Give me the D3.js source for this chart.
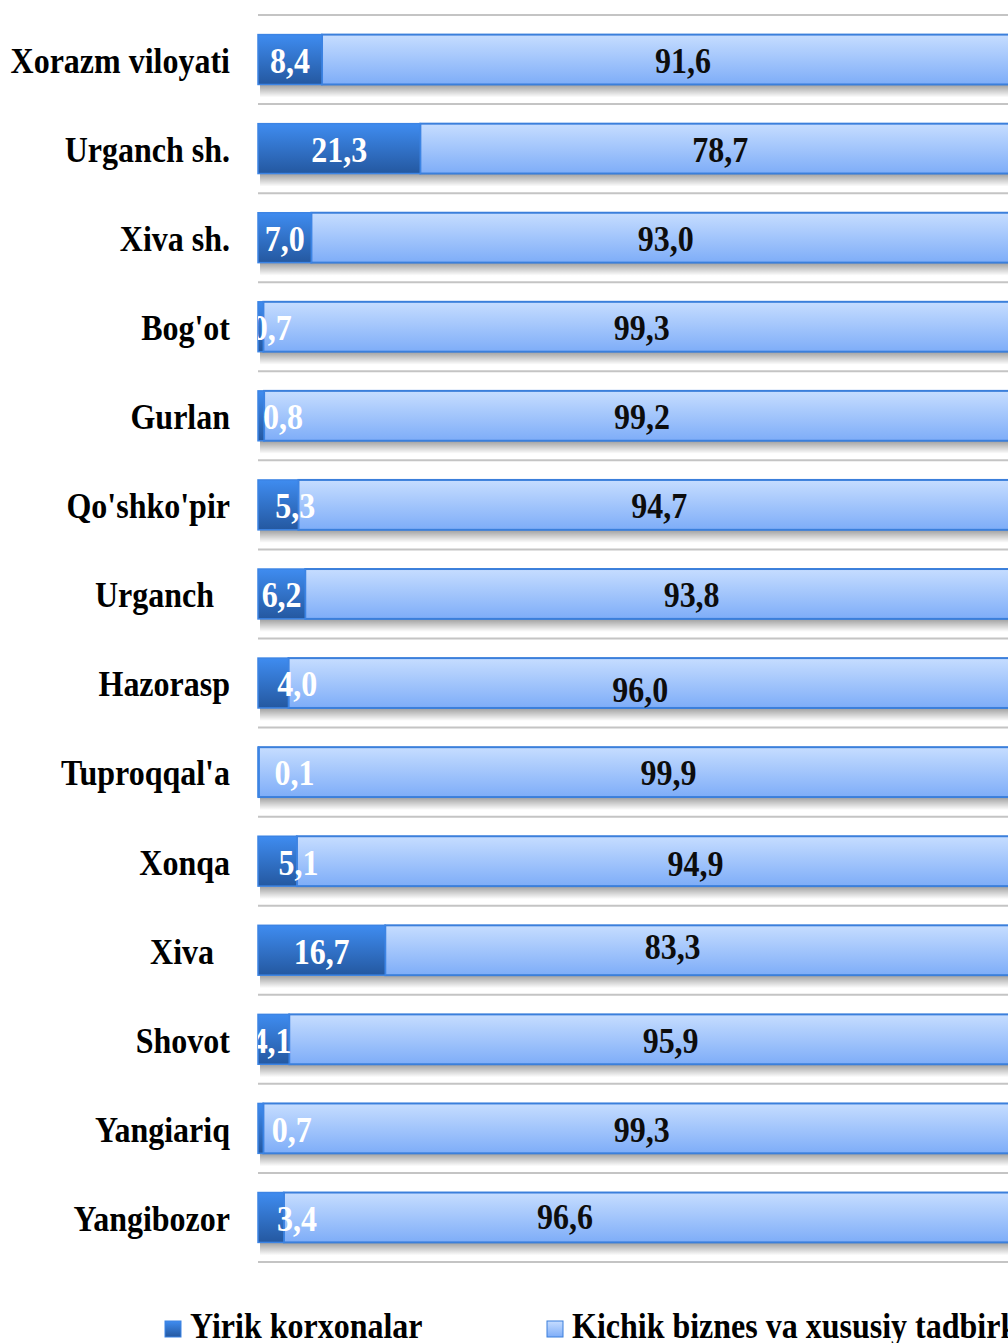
<!DOCTYPE html>
<html>
<head>
<meta charset="utf-8">
<script src="https://cdnjs.cloudflare.com/ajax/libs/d3/7.8.5/d3.min.js"></script>
<style>
    html, body { margin: 0; padding: 0; background: #fff; overflow: hidden; }
    svg text { font-family: 'Liberation Serif', 'Times New Roman', serif; font-weight: bold; }
    .cat-name { white-space: pre; }
</style>
</head>
<body>
<svg id="mainCanvas" width="1008" height="1343"></svg>
<script>
var width = 1008;
var height = 1343;

// data
var categories = ['Xorazm viloyati', 'Urganch sh.', 'Xiva sh.', "Bog'ot", 'Gurlan', "Qo'shko'pir",
    'Urganch  ', 'Hazorasp', "Tuproqqal'a", 'Xonqa', 'Xiva  ', 'Shovot', 'Yangiariq', 'Yangibozor'];
var yirik = [8.4, 21.3, 7.0, 0.7, 0.8, 5.3, 6.2, 4.0, 0.1, 5.1, 16.7, 4.1, 0.7, 3.4];
var kichik = [91.6, 78.7, 93.0, 99.3, 99.2, 94.7, 93.8, 96.0, 99.9, 94.9, 83.3, 95.9, 99.3, 96.6];
var seriesNames = ['Yirik korxonalar', 'Kichik biznes va xususiy tadbirkorlik'];

// hand-moved data labels in the original (px offsets from the segment centre)
var yirikLabelDx = [0, 0, 0, 11, 22, 17, 0, 24, 36, 21, 0, -2, 31, 26];
var kichikLabelDx = [12, 0, 0, 0, 0, 0, 29, -14, 29, 37, -30, 16, 0, -87];
var kichikLabelDy = [0, 0, 0, 0, 0, 0, 0, 6, 0, 1, -5, 0, 0, -2];

var rows = categories.map(function(c, i) {
    return { name: c, a: yirik[i], b: kichik[i], i: i };
});

var plotLeft = 258, plotRight = 1020, plotTop = 15, plotBottom = 1262;
var fontSize = 32;
var stretch = 'scale(1 1.1)';   // the source picture is a little taller than wide

var x = d3.scaleLinear().domain([0, 100]).range([plotLeft, plotRight]);
var y = d3.scaleBand().domain(categories).range([plotTop, plotBottom])
    .paddingInner(0.44).paddingOuter(0.22);
var step = y.step();

var fmt = function(v) { return d3.format('.1f')(v).replace('.', ','); };
var at = function(px, py) { return 'translate(' + px + ' ' + py + ') ' + stretch; };

var svg = d3.select('#mainCanvas');
var defs = svg.append('defs');

var gradA = defs.append('linearGradient').attr('id', 'gradYirik')
    .attr('x1', 0).attr('y1', 0).attr('x2', 0).attr('y2', 1);
gradA.append('stop').attr('offset', '0%').attr('stop-color', '#3f8cf0');
gradA.append('stop').attr('offset', '100%').attr('stop-color', '#2458a0');

var gradB = defs.append('linearGradient').attr('id', 'gradKichik')
    .attr('x1', 0).attr('y1', 0).attr('x2', 0).attr('y2', 1);
gradB.append('stop').attr('offset', '0%').attr('stop-color', '#c6ddff');
gradB.append('stop').attr('offset', '100%').attr('stop-color', '#7eadf8');

var gradS = defs.append('linearGradient').attr('id', 'gradShadow')
    .attr('x1', 0).attr('y1', 0).attr('x2', 0).attr('y2', 1);
gradS.append('stop').attr('offset', '0%').attr('stop-color', '#000').attr('stop-opacity', 0.38);
gradS.append('stop').attr('offset', '100%').attr('stop-color', '#000').attr('stop-opacity', 0);

defs.append('clipPath').attr('id', 'plotClip')
    .append('rect')
    .attr('x', plotLeft).attr('y', 0)
    .attr('width', width - plotLeft).attr('height', height);

// gridlines between categories
svg.append('g').selectAll('line')
    .data(d3.range(categories.length + 1))
    .enter()
    .append('line')
    .attr('x1', plotLeft)
    .attr('x2', width)
    .attr('y1', function(d) { return plotTop + d * step; })
    .attr('y2', function(d) { return plotTop + d * step; })
    .attr('stroke', '#c4c4c4')
    .attr('stroke-width', 2);

// soft shadow under each bar
svg.append('g').selectAll('rect')
    .data(rows)
    .enter()
    .append('rect')
    .attr('x', x(0) + 2)
    .attr('y', function(d) { return y(d.name) + y.bandwidth(); })
    .attr('width', function(d) { return x(d.a + d.b) - x(0); })
    .attr('height', 13)
    .attr('fill', 'url(#gradShadow)');

var barGroup = svg.append('g');

barGroup.selectAll('.bar-b')
    .data(rows)
    .enter()
    .append('rect')
    .attr('class', 'bar-b')
    .attr('x', function(d) { return x(d.a); })
    .attr('y', function(d) { return y(d.name); })
    .attr('width', function(d) { return x(d.a + d.b) - x(d.a); })
    .attr('height', y.bandwidth())
    .attr('fill', 'url(#gradKichik)')
    .attr('stroke', '#3b7fdb')
    .attr('stroke-width', 2);

barGroup.selectAll('.bar-a')
    .data(rows)
    .enter()
    .append('rect')
    .attr('class', 'bar-a')
    .attr('x', x(0))
    .attr('y', function(d) { return y(d.name); })
    .attr('width', function(d) { return x(d.a) - x(0); })
    .attr('height', y.bandwidth())
    .attr('fill', 'url(#gradYirik)')
    .attr('stroke', '#3c84e4')
    .attr('stroke-width', 1.5);

// category names
svg.append('g').selectAll('text')
    .data(rows)
    .enter()
    .append('text')
    .attr('class', 'cat-name')
    .attr('transform', function(d) { return at(230, y(d.name) + y.bandwidth() / 2 + 1); })
    .attr('dy', '0.35em')
    .attr('text-anchor', 'end')
    .attr('font-size', fontSize)
    .attr('fill', '#000')
    .text(function(d) { return d.name; });

// value labels
var labelGroup = svg.append('g').attr('clip-path', 'url(#plotClip)');

labelGroup.selectAll('.lab-a')
    .data(rows)
    .enter()
    .append('text')
    .attr('class', 'lab-a')
    .attr('transform', function(d) {
        return at((x(0) + x(d.a)) / 2 + yirikLabelDx[d.i], y(d.name) + y.bandwidth() / 2 + 1);
    })
    .attr('dy', '0.35em')
    .attr('text-anchor', 'middle')
    .attr('font-size', fontSize)
    .attr('fill', '#fff')
    .text(function(d) { return fmt(d.a); });

labelGroup.selectAll('.lab-b')
    .data(rows)
    .enter()
    .append('text')
    .attr('class', 'lab-b')
    .attr('transform', function(d) {
        return at((x(d.a) + x(d.a + d.b)) / 2 + kichikLabelDx[d.i],
            y(d.name) + y.bandwidth() / 2 + 1 + kichikLabelDy[d.i]);
    })
    .attr('dy', '0.35em')
    .attr('text-anchor', 'middle')
    .attr('font-size', fontSize)
    .attr('fill', '#0d0d0d')
    .text(function(d) { return fmt(d.b); });

// legend
var legend = svg.append('g').selectAll('g')
    .data(seriesNames)
    .enter()
    .append('g')
    .attr('transform', function(d, i) {
        return 'translate(' + (165 + i * 382) + ' 1321)';
    });

legend.append('rect')
    .attr('width', 16)
    .attr('height', 16)
    .attr('fill', function(d, i) { return i === 0 ? 'url(#gradYirik)' : 'url(#gradKichik)'; })
    .attr('stroke', function(d, i) { return i === 0 ? '#3c84e4' : '#3b7fdb'; })
    .attr('stroke-width', 1);

legend.append('text')
    .attr('transform', at(25, 17))
    .attr('font-size', fontSize)
    .attr('fill', '#000')
    .text(function(d) { return d; });
</script>
</body>
</html>
